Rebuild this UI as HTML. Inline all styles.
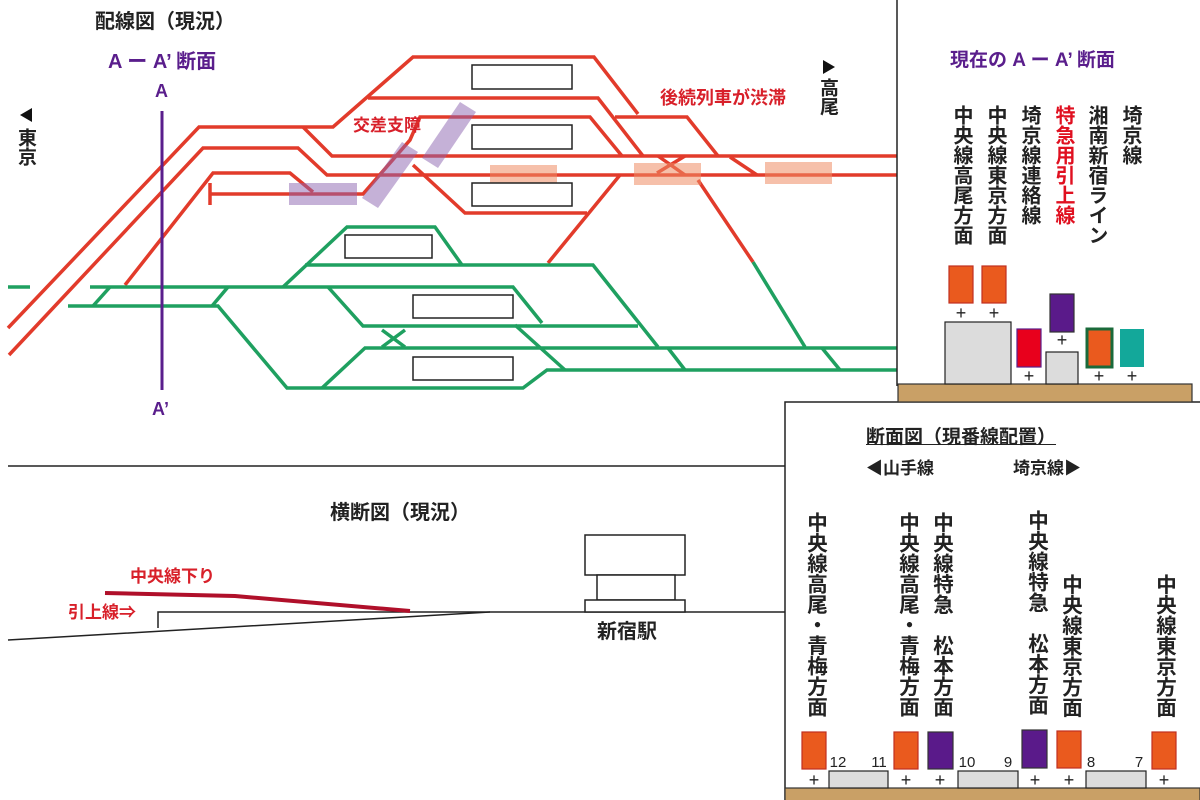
<!DOCTYPE html>
<html><head><meta charset="utf-8"><style>
body{margin:0;background:#fff;}
#w{position:relative;width:1200px;height:800px;overflow:hidden;font-family:"Liberation Sans","Noto Sans CJK JP",sans-serif;}
.t{position:absolute;white-space:nowrap;line-height:1;font-weight:bold;}
.v{position:absolute;writing-mode:vertical-rl;line-height:1;white-space:nowrap;font-weight:bold;}
</style></head><body><div id="w">
<svg width="1200" height="800" style="position:absolute;left:0;top:0">
<g fill="none" stroke="#e23b2b" stroke-width="3.5">
<polyline points="8,328 199,127 333,127 413,57 594,57 638,114"/>
<polyline points="303,127 332,156 897,156"/>
<polyline points="9,355 203,148 298,148 327,175 897,175"/>
<polyline points="368,98 598,98 643,156"/>
<polyline points="125,285 213,173 290,173 313,192"/>
<polyline points="210,194 363,194 410,140 420,117 590,117 622,156"/>
<line x1="210" y1="183" x2="210" y2="205"/>
<polyline points="413,165 465,213 587,213"/>
<line x1="548" y1="263" x2="620" y2="175"/>
<polyline points="615,117 687,117 718,156"/>
<line x1="657" y1="173" x2="685" y2="156"/>
<line x1="658" y1="156" x2="685" y2="175"/>
<line x1="698" y1="180" x2="753" y2="262"/>
<line x1="730" y1="157" x2="757" y2="175"/>
</g>
<g fill="none" stroke="#1fa060" stroke-width="3.5">
<line x1="8" y1="287" x2="30" y2="287"/>
<polyline points="90,287 513,287 542,323"/>
<polyline points="68,306 218,306 287,388 523,388 547,370 897,370"/>
<line x1="93" y1="306" x2="110" y2="287"/>
<line x1="212" y1="306" x2="228" y2="287"/>
<polyline points="283,287 347,227 435,227 462,265"/>
<polyline points="305,265 593,265 658,347"/>
<polyline points="328,287 363,326 638,326"/>
<line x1="382" y1="330" x2="405" y2="347"/>
<line x1="382" y1="347" x2="405" y2="330"/>
<polyline points="322,388 365,348 897,348"/>
<line x1="515" y1="325" x2="565" y2="370"/>
<line x1="668" y1="348" x2="685" y2="370"/>
<line x1="822" y1="348" x2="840" y2="370"/>
<line x1="753" y1="262" x2="805" y2="347"/>
</g>
<g fill="rgba(140,100,175,0.5)">
<rect x="289" y="183" width="68" height="22"/>
<polygon points="362,198 402,142 418,152 378,208"/>
<polygon points="422,158 460,102 476,112 438,168"/>
</g>
<g fill="rgba(238,140,100,0.55)">
<rect x="490" y="165" width="67" height="22"/>
<rect x="634" y="163" width="67" height="22"/>
<rect x="765" y="162" width="67" height="22"/>
</g>
<g fill="#fff" stroke="#222" stroke-width="1.5">
<rect x="472" y="65" width="100" height="24"/><rect x="472" y="125" width="100" height="24"/><rect x="472" y="183" width="100" height="23"/>
<rect x="345" y="235" width="87" height="23"/><rect x="413" y="295" width="100" height="23"/><rect x="413" y="357" width="100" height="23"/>
</g>
<line x1="162" y1="111" x2="162" y2="390" stroke="#5a1e8c" stroke-width="3"/>
<g stroke="#222" stroke-width="1.5" fill="none">
<line x1="897" y1="0" x2="897" y2="386"/>
<line x1="8" y1="466" x2="785" y2="466"/>
<polyline points="785,800 785,402 1200,402"/>
<polyline points="8,640 490,612 785,612"/>
<polyline points="158,628 158,612 490,612"/>
<rect x="585" y="535" width="100" height="40" fill="#fff"/>
<rect x="597" y="575" width="78" height="25" fill="#fff"/>
<rect x="585" y="600" width="100" height="12" fill="#fff"/>
</g>
<polyline points="105,593 235,596 410,611" fill="none" stroke="#b0102a" stroke-width="4"/>
<g stroke="#333" stroke-width="1.2">
<rect x="898" y="384" width="294" height="18" fill="#c9a066"/>
<rect x="785" y="788" width="415" height="14" fill="#c9a066"/>
</g>
<g stroke-width="1.2">
<rect x="949" y="266" width="24" height="37" fill="#ea5a1e" stroke="#c03020"/>
<rect x="982" y="266" width="24" height="37" fill="#ea5a1e" stroke="#c03020"/>
<rect x="945" y="322" width="66" height="62" fill="#dcdcdc" stroke="#222"/>
<rect x="1017" y="329" width="24" height="38" fill="#e8001c" stroke="#5a1e8c"/>
<rect x="1050" y="294" width="24" height="38" fill="#5a1a8a" stroke="#333"/>
<rect x="1046" y="352" width="32" height="32" fill="#dcdcdc" stroke="#222"/>
<rect x="1087" y="329" width="25" height="38" fill="#ea5a1e" stroke="#1a6a3a" stroke-width="3"/>
<rect x="1120" y="329" width="24" height="38" fill="#13a89a"/>
<rect x="802" y="732" width="24" height="37" fill="#ea5a1e" stroke="#c03020"/>
<rect x="829" y="771" width="59" height="17" fill="#dcdcdc" stroke="#222"/>
<rect x="894" y="732" width="24" height="37" fill="#ea5a1e" stroke="#c03020"/>
<rect x="928" y="732" width="25" height="37" fill="#5a1a8a" stroke="#333"/>
<rect x="958" y="771" width="60" height="17" fill="#dcdcdc" stroke="#222"/>
<rect x="1022" y="730" width="25" height="38" fill="#5a1a8a" stroke="#333"/>
<rect x="1057" y="731" width="24" height="37" fill="#ea5a1e" stroke="#c03020"/>
<rect x="1086" y="771" width="60" height="17" fill="#dcdcdc" stroke="#222"/>
<rect x="1152" y="732" width="24" height="37" fill="#ea5a1e" stroke="#c03020"/>
</g>
<g font-family="Liberation Sans" font-size="18" text-anchor="middle" fill="#222">
<text x="961" y="319">+</text><text x="994" y="319">+</text><text x="1029" y="382">+</text><text x="1062" y="346">+</text><text x="1099" y="382">+</text><text x="1132" y="382">+</text>
<text x="814" y="786">+</text><text x="906" y="786">+</text><text x="940" y="786">+</text><text x="1035" y="786">+</text><text x="1069" y="786">+</text><text x="1164" y="786">+</text>
<text x="838" y="767" font-size="15">12</text><text x="879" y="767" font-size="15">11</text><text x="967" y="767" font-size="15">10</text><text x="1008" y="767" font-size="15">9</text><text x="1091" y="767" font-size="15">8</text><text x="1139" y="767" font-size="15">7</text>
</g>
<polygon points="823,60 835,67 823,74" fill="#111"/>
<polygon points="32,108 20,115 32,122" fill="#111"/>
</svg>
<div class="t" style="left:95px;top:12px;font-size:20px;color:#222">配線図（現況）</div>
<div class="t" style="left:108px;top:52px;font-size:20px;color:#5a1e8c">A ー A’ 断面</div>
<div class="t" style="left:155px;top:82px;font-size:18px;color:#5a1e8c">A</div>
<div class="t" style="left:152px;top:400px;font-size:18px;color:#5a1e8c">A’</div>
<div class="v" style="left:16px;top:128px;font-size:19px;color:#222">東京</div>
<div class="v" style="left:818px;top:78px;font-size:19px;color:#222">高尾</div>
<div class="t" style="left:353px;top:117px;font-size:17px;color:#d8202a">交差支障</div>
<div class="t" style="left:660px;top:89px;font-size:18px;color:#d8202a">後続列車が渋滞</div>
<div class="t" style="left:950px;top:51px;font-size:19px;color:#5a1e8c">現在の A ー A’ 断面</div>
<div class="v" style="left:951px;top:105px;font-size:20px;color:#222">中央線高尾方面</div>
<div class="v" style="left:985px;top:105px;font-size:20px;color:#222">中央線東京方面</div>
<div class="v" style="left:1019px;top:105px;font-size:20px;color:#222">埼京線連絡線</div>
<div class="v" style="left:1053px;top:105px;font-size:20px;color:#e01020">特急用引上線</div>
<div class="v" style="left:1086px;top:105px;font-size:20px;color:#222">湘南新宿ライン</div>
<div class="v" style="left:1120px;top:105px;font-size:20px;color:#222">埼京線</div>
<div class="t" style="left:330px;top:503px;font-size:20px;color:#222">横断図（現況）</div>
<div class="t" style="left:130px;top:568px;font-size:17px;color:#d8202a">中央線下り</div>
<div class="t" style="left:68px;top:604px;font-size:17px;color:#d8202a">引上線⇒</div>
<div class="t" style="left:597px;top:622px;font-size:20px;color:#222">新宿駅</div>
<div class="t" style="left:866px;top:428px;font-size:19px;color:#222;text-decoration:underline">断面図（現番線配置）</div>
<div class="t" style="left:866px;top:460px;font-size:17px;color:#222">◀山手線</div>
<div class="t" style="left:1013px;top:460px;font-size:17px;color:#222">埼京線▶</div>
<div class="v" style="left:804px;top:512px;font-size:20.5px;color:#222">中央線高尾・青梅方面</div>
<div class="v" style="left:896px;top:512px;font-size:20.5px;color:#222">中央線高尾・青梅方面</div>
<div class="v" style="left:930px;top:512px;font-size:20.5px;color:#222">中央線特急　松本方面</div>
<div class="v" style="left:1025px;top:510px;font-size:20.5px;color:#222">中央線特急　松本方面</div>
<div class="v" style="left:1059px;top:574px;font-size:20.5px;color:#222">中央線東京方面</div>
<div class="v" style="left:1153px;top:574px;font-size:20.5px;color:#222">中央線東京方面</div>
</div></body></html>
